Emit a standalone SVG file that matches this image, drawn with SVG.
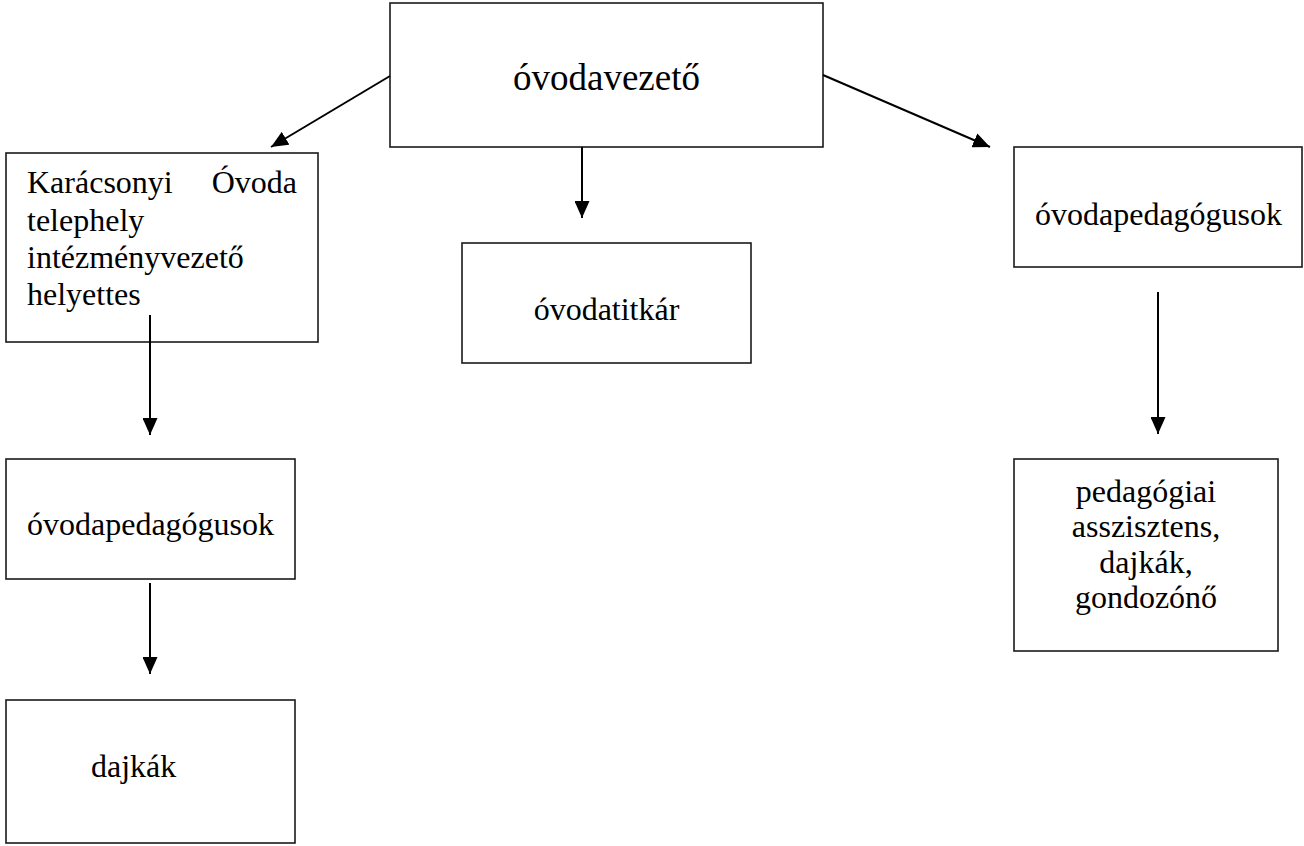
<svg xmlns="http://www.w3.org/2000/svg" width="1304" height="846" viewBox="0 0 1304 846">
<style>
.box{fill:#fff;stroke:#1a1a1a;stroke-width:1.6}
.t{font-family:"Liberation Serif","Times New Roman",serif;font-size:32px;fill:#000}
.c{text-anchor:middle}
.big{font-size:37px}
.edge{stroke:#000;stroke-width:2;fill:none;marker-end:url(#arr)}
</style>
<defs>
<marker id="arr" viewBox="0 0 17 15" refX="17" refY="7.5" markerWidth="17" markerHeight="15" markerUnits="userSpaceOnUse" orient="auto">
<path d="M0,0 L17,7.5 L0,15 z" fill="#000"/>
</marker>
</defs>
<rect width="1304" height="846" fill="#fff"/>
<g id="n-vezeto">
<rect class="box" x="390" y="3" width="433" height="144"/>
<text class="t big c" x="606.5" y="90">óvodavezető</text>
</g>
<g id="n-helyettes">
<rect class="box" x="6" y="153" width="312" height="189"/>
<text class="t" x="27" y="193">Karácsonyi</text>
<text class="t" x="297" y="193" text-anchor="end">Óvoda</text>
<text class="t" x="27" y="231">telephely</text>
<text class="t" x="27" y="268">intézményvezető</text>
<text class="t" x="27" y="305">helyettes</text>
</g>
<g id="n-titkar">
<rect class="box" x="462" y="243" width="289" height="120"/>
<text class="t c" x="606.5" y="320">óvodatitkár</text>
</g>
<g id="n-pedagogusok-r">
<rect class="box" x="1014" y="147" width="288" height="120"/>
<text class="t c" x="1158.5" y="225">óvodapedagógusok</text>
</g>
<g id="n-asszisztens">
<rect class="box" x="1014" y="459" width="264" height="192"/>
<text class="t c" x="1146" y="502">pedagógiai</text>
<text class="t c" x="1146" y="537">asszisztens,</text>
<text class="t c" x="1146" y="573">dajkák,</text>
<text class="t c" x="1146" y="608">gondozónő</text>
</g>
<g id="n-pedagogusok-l">
<rect class="box" x="6" y="459" width="289" height="120"/>
<text class="t" x="27" y="535">óvodapedagógusok</text>
</g>
<g id="n-dajkak">
<rect class="box" x="6" y="700" width="289" height="143"/>
<text class="t" x="91" y="777">dajkák</text>
</g>
<g id="connectors">
<line class="edge" x1="390" y1="76" x2="271" y2="147"/>
<line class="edge" x1="582" y1="147" x2="582" y2="218"/>
<line class="edge" x1="823" y1="75" x2="990" y2="147"/>
<line class="edge" x1="150" y1="315" x2="150" y2="435"/>
<line class="edge" x1="150" y1="583" x2="150" y2="674"/>
<line class="edge" x1="1158" y1="292" x2="1158" y2="434"/>
</g>
</svg>
